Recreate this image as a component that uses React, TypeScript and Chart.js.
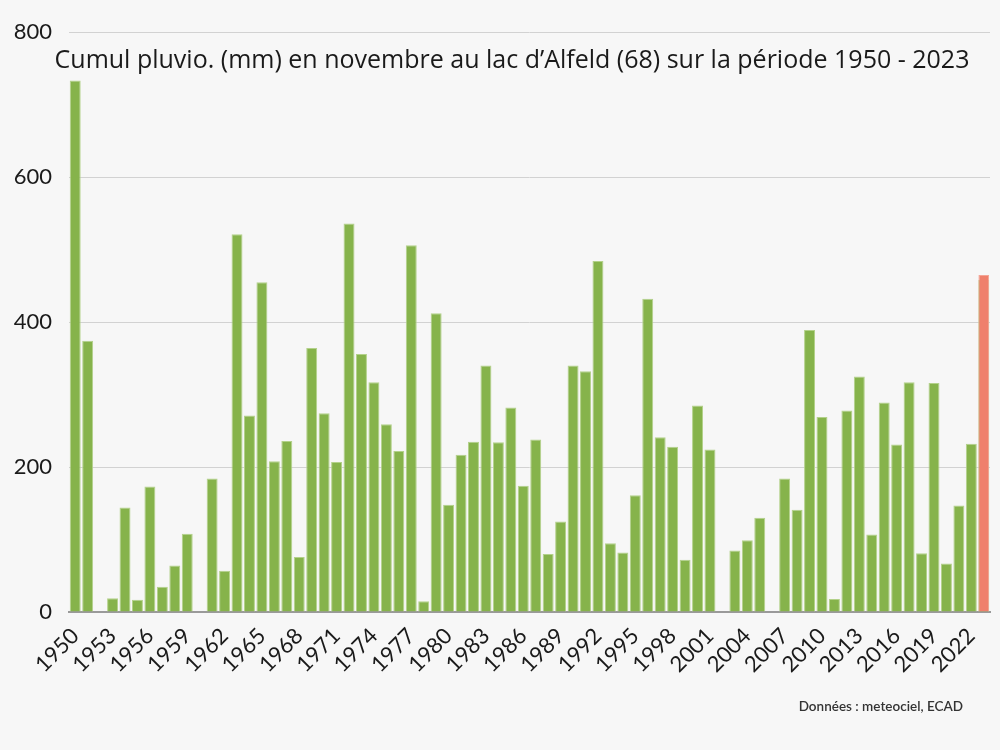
import React, { useEffect, useRef } from "react";
import { Chart, registerables } from "chart.js";

Chart.register(...registerables);

const years: string[] = [
  "1950", "1951", "1952", "1953", "1954", "1955", "1956", "1957", "1958", "1959",
  "1960", "1961", "1962", "1963", "1964", "1965", "1966", "1967", "1968", "1969",
  "1970", "1971", "1972", "1973", "1974", "1975", "1976", "1977", "1978", "1979",
  "1980", "1981", "1982", "1983", "1984", "1985", "1986", "1987", "1988", "1989",
  "1990", "1991", "1992", "1993", "1994", "1995", "1996", "1997", "1998", "1999",
  "2000", "2001", "2002", "2003", "2004", "2005", "2006", "2007", "2008", "2009",
  "2010", "2011", "2012", "2013", "2014", "2015", "2016", "2017", "2018", "2019",
  "2020", "2021", "2022", "2023",
];

// Cumul pluvio (mm) de novembre
const rainfall: (number | null)[] = [
  733, 374, null, 19, 144, 17, 173, 35, 64, 108,
  null, 184, 57, 521, 271, 455, 208, 236, 76, 364,
  274, 207, 536, 356, 317, 259, 222, 506, 15, 412,
  148, 217, 235, 340, 234, 282, 174, 238, 80, 125,
  340, 332, 484, 95, 82, 161, 432, 241, 228, 72,
  285, 224, null, 85, 99, 130, null, 184, 141, 389,
  269, 18, 278, 325, 107, 289, 231, 317, 81, 316,
  67, 147, 232, 458,
];

const highlightYear = "2023";
const highlightValue = 465;

const shownTickLabels: string[] = [
  "1950", "1953", "1956", "1959", "1962", "1965", "1968", "1971", "1974", "1977",
  "1980", "1983", "1986", "1989", "1992", "1995", "1998", "2001", "2004", "2007",
  "2010", "2013", "2016", "2019", "2022",
];

const yTicks: number[] = [0, 200, 400, 600, 800];

const titleText =
  "Cumul pluvio. (mm) en novembre au lac d\u2019Alfeld (68) sur la p\u00e9riode 1950 - 2023";
const sourceText = "Donn\u00e9es : meteociel, ECAD";

const FONT = "Lato, 'Noto Sans', sans-serif";
const TITLE_FONT = "'Open Sans', 'Noto Sans', sans-serif";

export default function App() {
  const canvasRef = useRef<HTMLCanvasElement | null>(null);

  useEffect(() => {
    if (!canvasRef.current) return;

    const textPlugin = {
      id: "textOverlay",
      afterDraw(chart: any) {
        const ctx = chart.ctx;
        ctx.save();
        ctx.fillStyle = "#1a1a1a";
        let size = 23;
        ctx.font = `${size}px ${TITLE_FONT}`;
        const w = ctx.measureText(titleText).width;
        if (w > 0) {
          size = Math.min(26, Math.max(20, (size * 915) / w));
          ctx.font = `${size}px ${TITLE_FONT}`;
        }
        ctx.textAlign = "center";
        ctx.textBaseline = "alphabetic";
        ctx.fillText(titleText, 512, 68);
        ctx.font = `600 13.5px ${FONT}`;
        ctx.fillStyle = "#333333";
        ctx.textAlign = "right";
        ctx.textBaseline = "middle";
        ctx.fillText(sourceText, 963, 707);
        ctx.restore();
      },
    };

    const chart = new Chart(canvasRef.current, {
      type: "bar",
      data: {
        labels: years,
        datasets: [
          {
            label: "2023",
            data: years.map((y) => (y === highlightYear ? highlightValue : null)),
            backgroundColor: "#ef806c",
            borderColor: "#f4a596",
            borderWidth: 1,
            order: 0,
            grouped: false,
            barPercentage: 0.86,
            categoryPercentage: 1,
          },
          {
            label: "Cumul",
            data: rainfall,
            backgroundColor: "#86b34b",
            borderColor: "#b3d18a",
            borderWidth: 1,
            order: 1,
            grouped: false,
            barPercentage: 0.88,
            categoryPercentage: 1,
          },
        ],
      },
      options: {
        responsive: false,
        devicePixelRatio: 1,
        animation: false,
        layout: { padding: { top: 32, right: 10, left: 0, bottom: 0 } },
        plugins: {
          legend: { display: false },
          title: { display: false },
          tooltip: { enabled: false },
        },
        scales: {
          x: {
            grid: { display: false, drawTicks: false },
            border: { display: true, color: "#9a9a9a", width: 2 },
            ticks: {
              autoSkip: false,
              minRotation: 45,
              maxRotation: 45,
              padding: 11,
              color: "#1a1a1a",
              font: { family: FONT, size: 22 },
              callback: function (this: any, value: any, index: number) {
                const lbl = years[index];
                return shownTickLabels.includes(lbl) ? lbl : "";
              },
            },
            afterFit: (s: any) => {
              s.height = 138;
              s.paddingLeft = 0;
              s.paddingRight = 0;
            },
          },
          y: {
            min: 0,
            max: 800,
            afterBuildTicks: (s: any) => {
              s.ticks = yTicks.map((v) => ({ value: v }));
            },
            grid: { color: "#d2d2d2", lineWidth: 1, drawTicks: false },
            border: { display: false },
            ticks: {
              padding: 17,
              color: "#1a1a1a",
              font: { family: FONT, size: 22 },
            },
            afterFit: (s: any) => {
              s.width = 69;
            },
          },
        },
      },
      plugins: [textPlugin],
    });

    return () => chart.destroy();
  }, []);

  return (
    <div
      style={{
        position: "fixed",
        left: 0,
        top: 0,
        width: 1000,
        height: 750,
        background: "#f7f7f7",
      }}
    >
      <canvas ref={canvasRef} width={1000} height={750} />
    </div>
  );
}
